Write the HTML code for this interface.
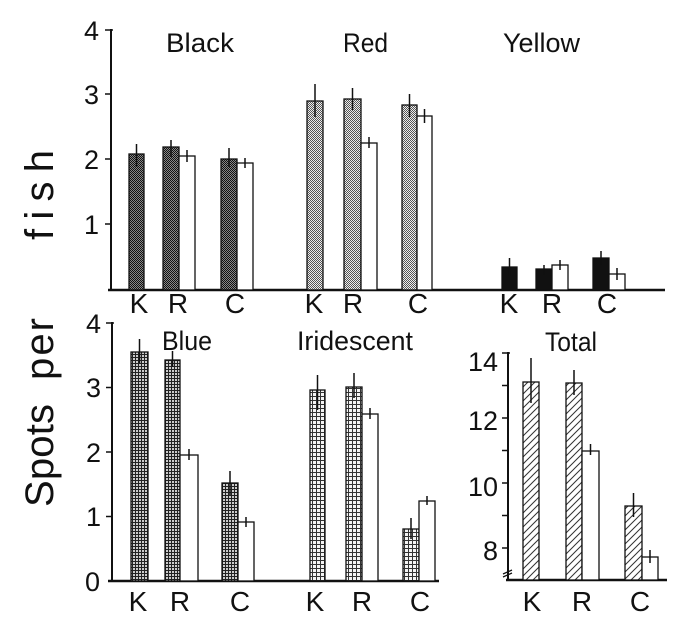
<!DOCTYPE html>
<html><head><meta charset="utf-8"><style>
html,body{margin:0;padding:0;background:#fff;}
svg{display:block;}
text{font-family:"Liberation Sans",sans-serif;fill:#111;}
</style></head><body>
<svg width="700" height="625" viewBox="0 0 700 625" xmlns="http://www.w3.org/2000/svg">
<defs>
<pattern id="pBlack" width="2" height="2" patternUnits="userSpaceOnUse">
<rect width="2" height="2" fill="#888"/><rect width="1" height="1" fill="#111"/><rect x="1" y="1" width="1" height="1" fill="#111"/>
</pattern>
<pattern id="pRed" width="2" height="2" patternUnits="userSpaceOnUse">
<rect width="2" height="2" fill="#eee"/><rect width="1" height="1" fill="#555"/><rect x="1" y="1" width="1" height="1" fill="#555"/>
</pattern>
<pattern id="pBlue" width="3" height="3" patternUnits="userSpaceOnUse">
<rect width="3" height="3" fill="#ccc"/><rect width="3" height="1" fill="#222"/><rect width="1" height="3" fill="#222"/>
</pattern>
<pattern id="pIrid" width="4" height="4" patternUnits="userSpaceOnUse">
<rect width="4" height="4" fill="#f4f4f4"/><rect width="4" height="1" fill="#333"/><rect width="1" height="4" fill="#333"/>
</pattern>
<pattern id="pTot" width="7" height="7" patternUnits="userSpaceOnUse">
<rect width="7" height="7" fill="#fff"/><path d="M-1,8 L8,-1 M-1,1 L1,-1 M6,8 L8,6" stroke="#333" stroke-width="1"/>
</pattern>
</defs>

<g stroke="#111" fill="none">
<line x1="111" y1="29" x2="111" y2="290" stroke-width="2"/>
<line x1="108" y1="290" x2="665" y2="290" stroke-width="2.5"/>
<line x1="105" y1="30" x2="113" y2="30" stroke-width="1.5"/>
<line x1="105" y1="94" x2="111" y2="94" stroke-width="1.5"/>
<line x1="105" y1="159" x2="111" y2="159" stroke-width="1.5"/>
<line x1="105" y1="224" x2="111" y2="224" stroke-width="1.5"/>
<line x1="112" y1="322" x2="112" y2="581" stroke-width="2"/>
<line x1="108" y1="581" x2="439" y2="581" stroke-width="2.5"/>
<line x1="106" y1="323" x2="114" y2="323" stroke-width="1.5"/>
<line x1="106" y1="387.5" x2="112" y2="387.5" stroke-width="1.5"/>
<line x1="106" y1="452" x2="112" y2="452" stroke-width="1.5"/>
<line x1="106" y1="516.5" x2="112" y2="516.5" stroke-width="1.5"/>
<line x1="508" y1="352" x2="508" y2="580" stroke-width="2"/>
<line x1="506" y1="580" x2="667" y2="580" stroke-width="2.5"/>
<line x1="502" y1="353" x2="510" y2="353" stroke-width="1.5"/>
<line x1="502" y1="385.5" x2="508" y2="385.5" stroke-width="1.5"/>
<line x1="502" y1="418" x2="508" y2="418" stroke-width="1.5"/>
<line x1="502" y1="450.5" x2="508" y2="450.5" stroke-width="1.5"/>
<line x1="502" y1="483" x2="508" y2="483" stroke-width="1.5"/>
<line x1="502" y1="515.5" x2="508" y2="515.5" stroke-width="1.5"/>
<line x1="502" y1="548" x2="508" y2="548" stroke-width="1.5"/>
<path d="M503,574 L512,570 M503,577 L512,573" stroke-width="1.3"/>
</g>

<g stroke="#111" stroke-width="1.3">
<rect x="129" y="154" width="15" height="136" fill="url(#pBlack)"/>
<rect x="163" y="147" width="16" height="143" fill="url(#pBlack)"/>
<rect x="179" y="156" width="16" height="134" fill="#fff"/>
<rect x="221" y="159" width="16" height="131" fill="url(#pBlack)"/>
<rect x="237" y="163" width="16" height="127" fill="#fff"/>

<rect x="307" y="101" width="16" height="189" fill="url(#pRed)"/>
<rect x="344" y="99" width="17" height="191" fill="url(#pRed)"/>
<rect x="361" y="143" width="16" height="147" fill="#fff"/>
<rect x="402" y="105" width="15" height="185" fill="url(#pRed)"/>
<rect x="417" y="116" width="15" height="174" fill="#fff"/>

<rect x="502" y="267" width="15" height="23" fill="#111"/>
<rect x="536" y="269" width="16" height="21" fill="#111"/>
<rect x="552" y="265" width="16" height="25" fill="#fff"/>
<rect x="593" y="258" width="16" height="32" fill="#111"/>
<rect x="609" y="274" width="16" height="16" fill="#fff"/>
</g>
<g stroke="#111" stroke-width="1.5">
<line x1="136.5" y1="144" x2="136.5" y2="167"/>
<line x1="171" y1="140" x2="171" y2="157"/>
<line x1="187" y1="150" x2="187" y2="162"/>
<line x1="229" y1="148" x2="229" y2="167"/>
<line x1="245" y1="158" x2="245" y2="168"/>
<line x1="315" y1="84" x2="315" y2="117"/>
<line x1="352.5" y1="88" x2="352.5" y2="110"/>
<line x1="369" y1="137" x2="369" y2="148"/>
<line x1="409.5" y1="94" x2="409.5" y2="117"/>
<line x1="424.5" y1="109" x2="424.5" y2="123"/>
<line x1="509.5" y1="258" x2="509.5" y2="276"/>
<line x1="544" y1="265" x2="544" y2="275"/>
<line x1="560" y1="260" x2="560" y2="270"/>
<line x1="601" y1="251" x2="601" y2="265"/>
<line x1="617" y1="268" x2="617" y2="280"/>
</g>

<g stroke="#111" stroke-width="1.3">
<rect x="131" y="352" width="17" height="229" fill="url(#pBlue)"/>
<rect x="165" y="360" width="15" height="221" fill="url(#pBlue)"/>
<rect x="180" y="455" width="18" height="126" fill="#fff"/>
<rect x="222" y="483" width="16" height="98" fill="url(#pBlue)"/>
<rect x="238" y="522" width="16" height="59" fill="#fff"/>

<rect x="310" y="390" width="15" height="191" fill="url(#pIrid)"/>
<rect x="346" y="387" width="16" height="194" fill="url(#pIrid)"/>
<rect x="362" y="414" width="16" height="167" fill="#fff"/>
<rect x="403" y="529" width="16" height="52" fill="url(#pIrid)"/>
<rect x="419" y="501" width="16" height="80" fill="#fff"/>
</g>
<g stroke="#111" stroke-width="1.5">
<line x1="139.5" y1="339" x2="139.5" y2="363"/>
<line x1="172.5" y1="351" x2="172.5" y2="367"/>
<line x1="189" y1="449" x2="189" y2="460"/>
<line x1="230" y1="471" x2="230" y2="495"/>
<line x1="246" y1="517" x2="246" y2="527"/>
<line x1="317.5" y1="375" x2="317.5" y2="410"/>
<line x1="354" y1="373" x2="354" y2="398"/>
<line x1="370" y1="408" x2="370" y2="419"/>
<line x1="411" y1="518" x2="411" y2="539"/>
<line x1="427" y1="496" x2="427" y2="505"/>
</g>

<g stroke="#111" stroke-width="1.3">
<rect x="523" y="382" width="16" height="198" fill="url(#pTot)"/>
<rect x="566" y="383" width="16" height="197" fill="url(#pTot)"/>
<rect x="582" y="451" width="17" height="129" fill="#fff"/>
<rect x="625" y="506" width="17" height="74" fill="url(#pTot)"/>
<rect x="642" y="557" width="16" height="23" fill="#fff"/>
</g>
<g stroke="#111" stroke-width="1.5">
<line x1="531" y1="358" x2="531" y2="403"/>
<line x1="574" y1="370" x2="574" y2="395"/>
<line x1="590.5" y1="444" x2="590.5" y2="455"/>
<line x1="633.5" y1="493" x2="633.5" y2="517"/>
<line x1="650" y1="550" x2="650" y2="563"/>
</g>

<g font-size="27" text-anchor="end">
<text x="99" y="40">4</text>
<text x="99" y="104">3</text>
<text x="99" y="169">2</text>
<text x="99" y="234">1</text>
<text x="101" y="333">4</text>
<text x="101" y="397">3</text>
<text x="101" y="462">2</text>
<text x="101" y="526">1</text>
<text x="100" y="591">0</text>
<text x="498" y="371">14</text>
<text x="498" y="430">12</text>
<text x="498" y="496">10</text>
<text x="498" y="560">8</text>
</g>

<g font-size="27">
<text x="166" y="52" textLength="68" lengthAdjust="spacingAndGlyphs">Black</text>
<text x="343" y="52" textLength="45" lengthAdjust="spacingAndGlyphs">Red</text>
<text x="503" y="52" textLength="77" lengthAdjust="spacingAndGlyphs">Yellow</text>
<text x="162" y="350" textLength="50" lengthAdjust="spacingAndGlyphs">Blue</text>
<text x="297" y="350" textLength="116" lengthAdjust="spacingAndGlyphs">Iridescent</text>
<text x="545" y="351" textLength="52" lengthAdjust="spacingAndGlyphs">Total</text>
</g>

<g font-size="28" text-anchor="middle">
<text x="139" y="313">K</text>
<text x="178" y="313">R</text>
<text x="235" y="313">C</text>
<text x="314" y="313">K</text>
<text x="353" y="313">R</text>
<text x="418" y="313">C</text>
<text x="509" y="313">K</text>
<text x="552" y="313">R</text>
<text x="607" y="313">C</text>
<text x="138" y="611">K</text>
<text x="180" y="611">R</text>
<text x="240" y="611">C</text>
<text x="315" y="611">K</text>
<text x="362" y="611">R</text>
<text x="420" y="611">C</text>
<text x="532" y="611">K</text>
<text x="582" y="611">R</text>
<text x="640" y="611">C</text>
</g>

<g font-size="40">
<text transform="translate(53,507) rotate(-90)" textLength="103" lengthAdjust="spacing">Spots</text>
<text transform="translate(53,380) rotate(-90)" textLength="62" lengthAdjust="spacing">per</text>
<text transform="translate(53,240) rotate(-90)" textLength="90" lengthAdjust="spacing">fish</text>
</g>
</svg>
</body></html>
